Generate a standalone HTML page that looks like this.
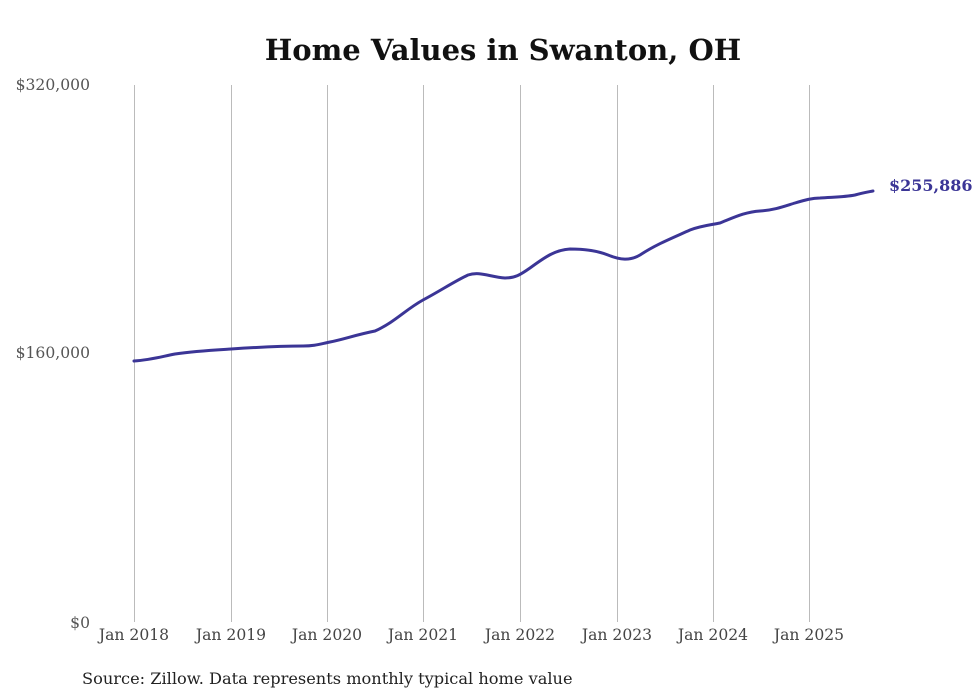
<!DOCTYPE html>
<html><head><meta charset="utf-8"><style>
html,body{margin:0;padding:0;background:#fff;}
svg{display:block;}
</style></head><body>
<svg width="980" height="699" xmlns="http://www.w3.org/2000/svg" font-family="'DejaVu Serif','Liberation Serif',serif">
<text x="503" y="60" text-anchor="middle" font-size="29" font-weight="bold" fill="#111">Home Values in Swanton, OH</text>
<g stroke="#bbb" stroke-width="1">
<line x1="134.5" y1="85" x2="134.5" y2="622"/>
<line x1="231.5" y1="85" x2="231.5" y2="622"/>
<line x1="327.5" y1="85" x2="327.5" y2="622"/>
<line x1="423.5" y1="85" x2="423.5" y2="622"/>
<line x1="520.5" y1="85" x2="520.5" y2="622"/>
<line x1="617.5" y1="85" x2="617.5" y2="622"/>
<line x1="713.5" y1="85" x2="713.5" y2="622"/>
<line x1="809.5" y1="85" x2="809.5" y2="622"/>
</g>
<g font-size="15.6" fill="#555" text-anchor="end">
<text x="90" y="90">$320,000</text>
<text x="90" y="358">$160,000</text>
<text x="90" y="628">$0</text>
</g>
<g font-size="15.6" fill="#444" text-anchor="middle">
<text x="134" y="640">Jan 2018</text>
<text x="231" y="640">Jan 2019</text>
<text x="327" y="640">Jan 2020</text>
<text x="423" y="640">Jan 2021</text>
<text x="520" y="640">Jan 2022</text>
<text x="617" y="640">Jan 2023</text>
<text x="713" y="640">Jan 2024</text>
<text x="809" y="640">Jan 2025</text>
</g>
<path d="M134,361 C150,360 160,357 175,354 C195,351 215,350 231,349 C260,347 280,346 303,346 C315,346 320,344 330,342 C345,339 355,335 375,331 C395,322 405,310 423,300 C440,291 455,281 468,275 C480,271 490,277 505,278 C515,278 520,275 530,268 C545,257 555,250 570,249 C585,249 598,251 608,255 C620,260 630,261 640,255 C655,245 670,239 690,230 C700,226 710,225 720,223 C735,217 745,212 760,211 C775,210 785,206 795,203 C805,200 812,198 820,198 C835,197 845,197 855,195 C862,193 868,192 873,191" fill="none" stroke="#3b3596" stroke-width="3" stroke-linecap="round" stroke-linejoin="round"/>
<text x="889" y="191" font-size="16" font-weight="bold" fill="#3b3596">$255,886</text>
<text x="82" y="684" font-size="16.2" fill="#222">Source: Zillow. Data represents monthly typical home value</text>
</svg>
</body></html>
